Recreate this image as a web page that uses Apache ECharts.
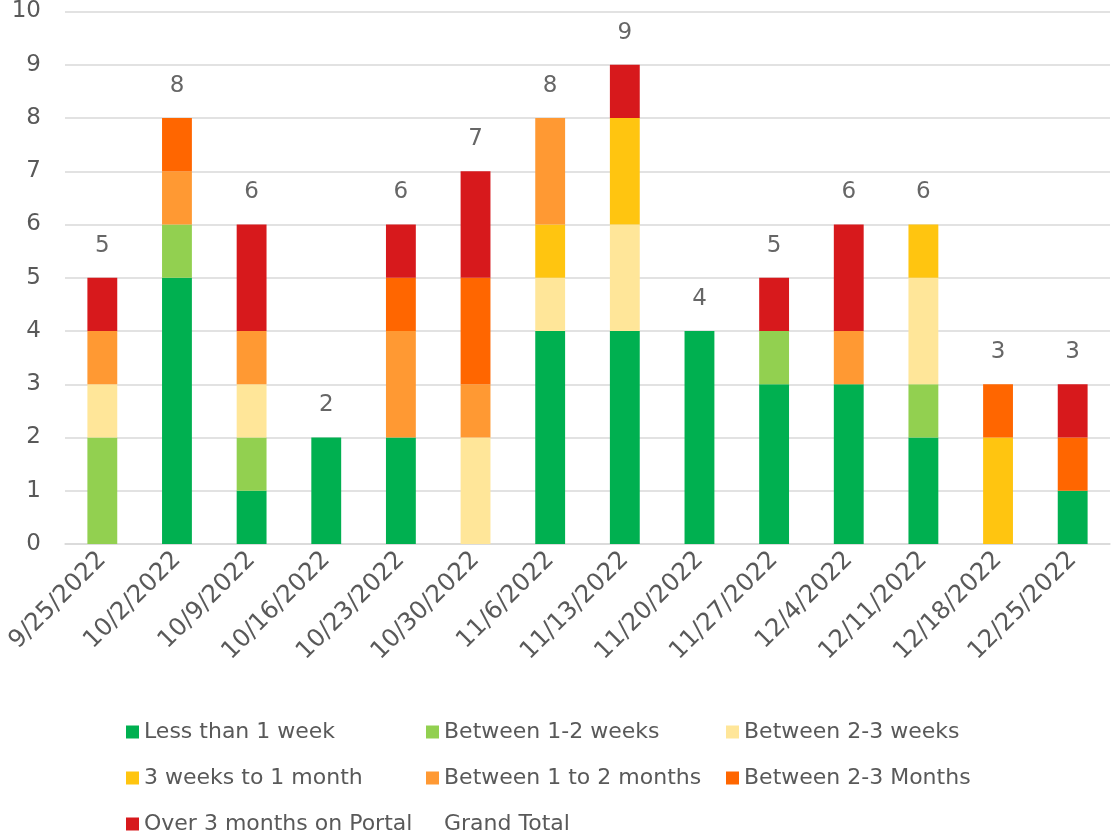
<!DOCTYPE html>
<html>
<head>
<meta charset="utf-8">
<script src="https://cdn.jsdelivr.net/npm/echarts@6/dist/echarts.min.js"></script>
<style>
  html, body { margin: 0; padding: 0; background: #fff; }
  #eChart { width: 1114px; height: 832px; }
</style>
</head>
<body>
<div id="eChart"></div>
<script>
    // weeks on the x axis
    var weeks = ['9/25/2022', '10/2/2022', '10/9/2022', '10/16/2022', '10/23/2022', '10/30/2022', '11/6/2022',
        '11/13/2022', '11/20/2022', '11/27/2022', '12/4/2022', '12/11/2022', '12/18/2022', '12/25/2022'];

    var lessThan1Week   = [0, 5, 1, 2, 2, 0, 4, 4, 4, 3, 3, 2, 0, 1];
    var between1to2Wks  = [2, 1, 1, 0, 0, 0, 0, 0, 0, 1, 0, 1, 0, 0];
    var between2to3Wks  = [1, 0, 1, 0, 0, 2, 1, 2, 0, 0, 0, 2, 0, 0];
    var weeks3toMonth   = [0, 0, 0, 0, 0, 0, 1, 2, 0, 0, 0, 1, 2, 0];
    var between1to2Mos  = [1, 1, 1, 0, 2, 1, 2, 0, 0, 0, 1, 0, 0, 0];
    var between2to3Mos  = [0, 1, 0, 0, 1, 2, 0, 0, 0, 0, 0, 0, 1, 1];
    var over3Months     = [1, 0, 2, 0, 1, 2, 0, 1, 0, 1, 2, 0, 0, 1];
    var grandTotal      = [5, 8, 6, 2, 6, 7, 8, 9, 4, 5, 6, 6, 3, 3];

    var yTicks = [0, 10, 1]; // min, max, interval

    var font = 'DejaVu Sans';

    function stackBar(name, data, color) {
        return {
            name: name,
            type: 'bar',
            stack: 'total',
            barWidth: '40%',
            itemStyle: { color: color },
            data: data
        };
    }

    var option = {
        animation: false,
        textStyle: { fontFamily: font },
        grid: {
            left: 65,
            right: 4,
            top: 10,
            bottom: 288
        },
        legend: {
            left: 121,
            top: 704,
            width: 910,
            icon: 'rect',
            itemWidth: 13,
            itemHeight: 13,
            itemGap: 0,
            textStyle: {
                fontFamily: font,
                fontSize: 22,
                color: '#595959',
                width: 282,
                lineHeight: 46
            },
            data: [
                'Less than 1 week', 'Between 1-2 weeks', 'Between 2-3 weeks',
                '3 weeks to 1 month', 'Between 1 to 2 months', 'Between 2-3 Months',
                'Over 3 months on Portal',
                { name: 'Grand Total', itemStyle: { opacity: 0 } }
            ]
        },
        xAxis: {
            type: 'category',
            data: weeks,
            axisLine: { lineStyle: { color: '#D9D9D9', width: 1.5 } },
            axisTick: { show: false },
            axisLabel: {
                rotate: 45,
                interval: 0,
                margin: 12,
                fontFamily: font,
                fontSize: 24.5,
                color: '#595959'
            }
        },
        yAxis: {
            type: 'value',
            min: yTicks[0],
            max: yTicks[1],
            interval: yTicks[2],
            axisLine: { show: false },
            axisTick: { show: false },
            splitLine: { lineStyle: { color: '#D9D9D9', width: 1.5 } },
            axisLabel: {
                margin: 24,
                fontFamily: font,
                fontSize: 23,
                color: '#595959'
            }
        },
        series: [
            stackBar('Less than 1 week', lessThan1Week, '#00B050'),
            stackBar('Between 1-2 weeks', between1to2Wks, '#92D050'),
            stackBar('Between 2-3 weeks', between2to3Wks, '#FFE699'),
            stackBar('3 weeks to 1 month', weeks3toMonth, '#FFC510'),
            stackBar('Between 1 to 2 months', between1to2Mos, '#FF9933'),
            stackBar('Between 2-3 Months', between2to3Mos, '#FF6600'),
            stackBar('Over 3 months on Portal', over3Months, '#D7191C'),
            {
                name: 'Grand Total',
                type: 'scatter',
                symbolSize: 1,
                itemStyle: { color: 'rgba(0,0,0,0)' },
                label: {
                    show: true,
                    position: 'top',
                    distance: 20,
                    fontFamily: font,
                    fontSize: 23,
                    color: '#404040'
                },
                data: grandTotal
            }
        ]
    };

    var _eChart = echarts.init(document.getElementById('eChart'));
    _eChart.setOption(option);
</script>
</body>
</html>
